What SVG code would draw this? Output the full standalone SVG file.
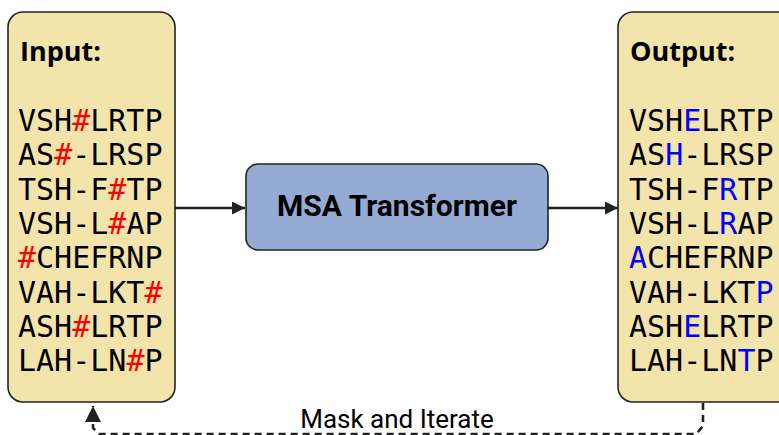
<svg xmlns="http://www.w3.org/2000/svg" width="779" height="435" viewBox="0 0 779 435">
<defs>
<style>
.box{fill:#f3e4ab;stroke:#222;stroke-width:1.6}
.seq{font-family:"DejaVu Sans Mono",monospace;font-size:30px;fill:#000}
.title{font-family:"Open Sans","Noto Sans",sans-serif;font-weight:bold;font-size:27px;fill:#000}
.r{fill:#ff0000}
.b{fill:#0000ff}
.conn{stroke:#222;stroke-width:2.4;fill:none}
.dash{stroke:#222;stroke-width:2.6;fill:none;stroke-dasharray:7,5}
</style>
<marker id="ah2" viewBox="0 0 10 10" refX="10" refY="5" markerWidth="13" markerHeight="13" orient="auto" markerUnits="userSpaceOnUse">
<path d="M0,0 L10,5 L0,10 z" fill="#222"/>
</marker>
<marker id="ah3" viewBox="0 0 10 10" refX="10" refY="5" markerWidth="16" markerHeight="16" orient="auto" markerUnits="userSpaceOnUse">
<path d="M0,0 L10,5 L0,10 z" fill="#222"/>
</marker>
</defs>
<rect width="779" height="435" fill="#fff"/>
<g id="connectors">
<line class="conn" x1="175" y1="208" x2="245" y2="208" marker-end="url(#ah2)"/>
<line class="conn" x1="548" y1="208" x2="618" y2="208" marker-end="url(#ah2)"/>
<path class="dash" d="M703,403 L703,426 L696,434 L99,434 L93,428 L93,406" marker-end="url(#ah3)"/>
<text x="397" y="428" text-anchor="middle" font-family="Roboto,sans-serif" font-size="26" fill="#000">Mask and Iterate</text>
</g>
<g id="input">
<rect class="box" x="8" y="12" width="167" height="390" rx="15"/>
<text class="title" x="20" y="61">Input:</text>
<text class="seq" x="18" y="131">VSH<tspan class="r">#</tspan>LRTP</text>
<text class="seq" x="18" y="165.3">AS<tspan class="r">#</tspan>-LRSP</text>
<text class="seq" x="18" y="199.6">TSH-F<tspan class="r">#</tspan>TP</text>
<text class="seq" x="18" y="233.9">VSH-L<tspan class="r">#</tspan>AP</text>
<text class="seq" x="18" y="268.2"><tspan class="r">#</tspan>CHEFRNP</text>
<text class="seq" x="18" y="302.5">VAH-LKT<tspan class="r">#</tspan></text>
<text class="seq" x="18" y="336.8">ASH<tspan class="r">#</tspan>LRTP</text>
<text class="seq" x="18" y="371.1">LAH-LN<tspan class="r">#</tspan>P</text>
</g>
<g id="msa">
<rect x="246" y="164" width="302" height="86" rx="12" fill="#95abd4" stroke="#222" stroke-width="1.6"/>
<text x="397" y="216" text-anchor="middle" font-family="Roboto,sans-serif" font-weight="bold" font-size="30" fill="#000">MSA Transformer</text>
</g>
<g id="output">
<rect class="box" x="618" y="12" width="180" height="390" rx="15"/>
<text class="title" x="630" y="61">Output:</text>
<text class="seq" x="629" y="131">VSH<tspan class="b">E</tspan>LRTP</text>
<text class="seq" x="629" y="165.3">AS<tspan class="b">H</tspan>-LRSP</text>
<text class="seq" x="629" y="199.6">TSH-F<tspan class="b">R</tspan>TP</text>
<text class="seq" x="629" y="233.9">VSH-L<tspan class="b">R</tspan>AP</text>
<text class="seq" x="629" y="268.2"><tspan class="b">A</tspan>CHEFRNP</text>
<text class="seq" x="629" y="302.5">VAH-LKT<tspan class="b">P</tspan></text>
<text class="seq" x="629" y="336.8">ASH<tspan class="b">E</tspan>LRTP</text>
<text class="seq" x="629" y="371.1">LAH-LN<tspan class="b">T</tspan>P</text>
</g>
</svg>
